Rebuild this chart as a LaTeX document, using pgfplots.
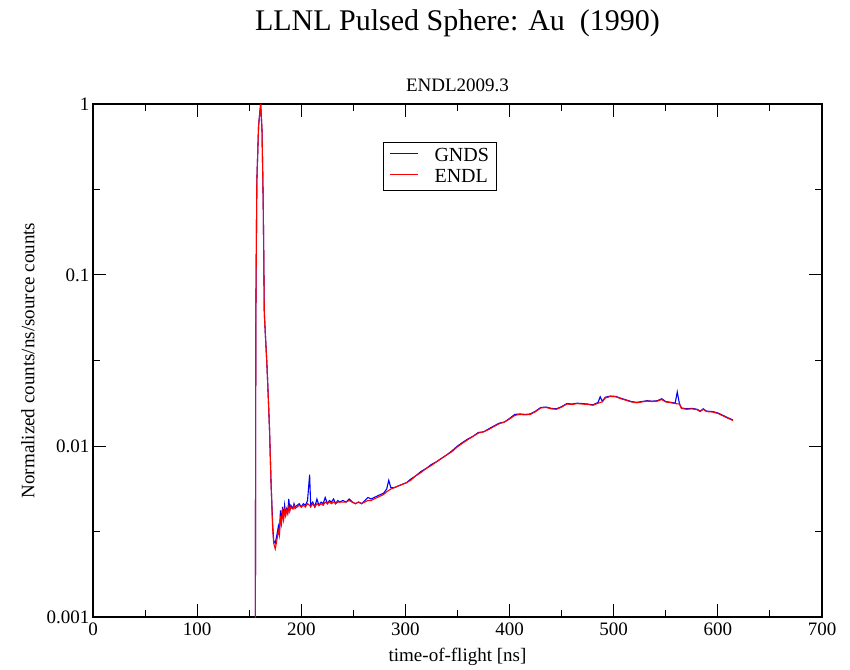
\documentclass[border=0pt]{standalone}
\usepackage{pgfplots}
\pgfplotsset{compat=1.18}
\usepackage{fontspec}
\setmainfont{Liberation Serif}
\begin{document}
\begin{tikzpicture}
\path (0pt,0pt) rectangle (850pt,665pt);
\node at (457.5pt,642pt) {\fontsize{30}{34}\selectfont LLNL Pulsed Sphere: Au\ \ (1990)};
\node at (457.5pt,580pt) {\fontsize{19}{22}\selectfont ENDL2009.3};
\begin{axis}[
  at={(93pt,48pt)}, anchor=south west,
  scale only axis, width=729pt, height=513pt,
  xmin=0, xmax=700, ymin=0.001, ymax=1, ymode=log,
  xtick={0,100,...,700}, minor xtick={50,150,...,650},
  ytick={0.001,0.01,0.1,1}, yticklabels={0.001,0.01,0.1,1},
  minor ytick={0.00316,0.0316,0.316},
  tick align=inside, major tick length=13pt, minor tick length=7pt,
  tick style={black, line width=1pt},
  axis line style={line width=1.2pt},
  ticklabel style={font=\fontsize{19}{22}\selectfont},
  /pgf/number format/assume math mode=true,
  xlabel={time-of-flight [ns]}, ylabel={Normalized counts/ns/source counts},
  label style={font=\fontsize{19}{22}\selectfont},
  xlabel style={at={(axis description cs:0.5,0)}, anchor=north, yshift=-28pt},
  ylabel style={at={(axis description cs:0,0.5)}, anchor=south, yshift=55pt},
  xticklabel style={yshift=-2pt},
  clip=true,
  legend style={at={(axis description cs:0.398,0.926)}, anchor=north west,
    draw=black, line width=1pt, font=\fontsize{20}{22}\selectfont,
    inner xsep=6pt, inner ysep=3pt, row sep=0pt, cells={anchor=west},
    nodes={inner ysep=0pt, text height=16pt, text depth=5pt},
    /tikz/every odd column/.append style={column sep=14pt}},
  legend image code/.code={\draw[#1, line width=0.9pt] (0pt,3pt) -- (28pt,3pt);},
]
\addplot[blue, line width=1.1pt] coordinates {
(155.5,1e-5) (156.3,0.05) (157.3,0.35) (159,0.75) (161,1.0) (162.3,0.7) (163.5,0.25)
(164.5,0.06) (165.5,0.045) (167,0.03) (168.5,0.018) (169.5,0.0125) (171,0.006)
(172.5,0.0035) (173.5,0.0028) (175,0.0027) (176.5,0.0030) (178,0.0034) (179,0.0031)
(180,0.0042) (181,0.0036) (182,0.0044) (183,0.0038) (184,0.0045) (185,0.0040)
(186,0.0043) (187,0.0041) (188,0.0049) (189,0.0042) (190,0.0045) (191,0.0044)
(192,0.0043) (193,0.0046) (194,0.0044) (196,0.0045) (198,0.0046) (200,0.0044)
(202,0.0046) (204,0.0045) (206,0.0048) (208,0.0068) (209,0.0045) (211,0.0047)
(213,0.0044) (215,0.0049) (217,0.0045) (219,0.0047) (221,0.0046) (223,0.0050)
(225,0.0046) (227,0.0048) (229,0.0047) (231,0.0049) (233,0.0046) (235,0.0048)
(237,0.0047) (240,0.0048) (243,0.0047) (246,0.0049) (249,0.0047) (252,0.0046)
(255,0.0047) (258,0.0046) (261,0.0048) (264,0.0050) (267,0.0049) (270,0.0050)
(273,0.0051) (276,0.0052) (279,0.0053) (282,0.0056) (284,0.0063) (286,0.0057)
(289,0.0057) (292,0.0058) (295,0.0059) (298,0.0060) (301,0.0061) (305,0.0064)
(310,0.0067) (315,0.0071) (320,0.0074) (325,0.0078) (330,0.0081) (335,0.0085)
(340,0.0089) (345,0.0094) (350,0.0100) (355,0.0105) (360,0.0110) (365,0.0114)
(370,0.0120) (375,0.0121) (380,0.0126) (385,0.0131) (390,0.0136) (395,0.0138)
(400,0.0145) (405,0.0153) (410,0.0154) (415,0.0153) (420,0.0154) (425,0.0160)
(430,0.0168) (435,0.0169) (440,0.0166) (445,0.0165) (450,0.0170) (455,0.0177)
(460,0.0176) (465,0.0178) (470,0.0177) (475,0.0176) (480,0.0174) (485,0.0180)
(487,0.0194) (489,0.0183) (492,0.0193) (497,0.0196) (502,0.0195) (507,0.0190)
(512,0.0186) (517,0.0182) (522,0.0180) (527,0.0182) (532,0.0184) (537,0.0183)
(542,0.0184) (546,0.0189) (550,0.0182) (555,0.0180) (559,0.0178) (561,0.0207)
(563,0.0178) (565,0.0167) (570,0.0165) (575,0.0166) (580,0.0164) (583,0.0160)
(586,0.0165) (589,0.0160) (595,0.0159) (600,0.0156) (605,0.0151) (610,0.0146)
(614.5,0.0142)
};
\addlegendentry{GNDS}
\addplot[red, line width=1.1pt] coordinates {
(155.5,1e-5) (156.3,0.05) (157.3,0.35) (159,0.75) (161,1.0) (162.3,0.7) (163.5,0.25)
(164.5,0.06) (165.5,0.045) (167,0.03) (168.5,0.018) (169.5,0.0125) (171,0.006)
(172.5,0.0033) (173.5,0.0027) (175,0.0025) (176.5,0.0028) (178,0.0032) (179,0.0030)
(180,0.0039) (181,0.0035) (182,0.0041) (183,0.0037) (184,0.0042) (185,0.0039)
(186,0.0042) (187,0.0040) (188,0.0044) (189,0.0042) (190,0.0044) (191,0.0043)
(192,0.0043) (193,0.0045) (194,0.0043) (196,0.0044) (198,0.0045) (200,0.0044)
(202,0.0045) (204,0.0044) (206,0.0046) (208,0.0045) (209,0.0044) (211,0.0046)
(213,0.0044) (215,0.0046) (217,0.0045) (219,0.0046) (221,0.0045) (223,0.0047)
(225,0.0046) (227,0.0047) (229,0.0046) (231,0.0047) (233,0.0046) (235,0.0047)
(237,0.0047) (240,0.0047) (243,0.0047) (246,0.0048) (249,0.0047) (252,0.0046)
(255,0.0047) (258,0.0046) (261,0.0047) (264,0.0048) (267,0.0048) (270,0.0049)
(273,0.0050) (276,0.0051) (279,0.0052) (282,0.0054) (284,0.0055) (286,0.0056)
(289,0.0057) (292,0.0058) (295,0.0059) (298,0.0060) (301,0.0061) (305,0.0063)
(310,0.0067) (315,0.0070) (320,0.0074) (325,0.0077) (330,0.0081) (335,0.0085)
(340,0.0089) (345,0.0093) (350,0.0099) (355,0.0104) (360,0.0109) (365,0.0114)
(370,0.0119) (375,0.0121) (380,0.0125) (385,0.0130) (390,0.0135) (395,0.0138)
(400,0.0144) (405,0.0151) (410,0.0153) (415,0.0152) (420,0.0153) (425,0.0159)
(430,0.0167) (435,0.0168) (440,0.0165) (445,0.0164) (450,0.0169) (455,0.0176)
(460,0.0175) (465,0.0177) (470,0.0176) (475,0.0175) (480,0.0173) (485,0.0178)
(489,0.0181) (492,0.0191) (497,0.0195) (502,0.0194) (507,0.0189) (512,0.0185)
(517,0.0181) (522,0.0179) (527,0.0181) (532,0.0183) (537,0.0182) (542,0.0183)
(546,0.0187) (550,0.0181) (555,0.0179) (559,0.0177) (563,0.0176) (565,0.0166)
(570,0.0164) (575,0.0165) (580,0.0163) (583,0.0159) (586,0.0164) (589,0.0159)
(595,0.0158) (600,0.0155) (605,0.0150) (610,0.0145) (614.5,0.0141)
};
\addlegendentry{ENDL}
\end{axis}
\end{tikzpicture}
\end{document}
